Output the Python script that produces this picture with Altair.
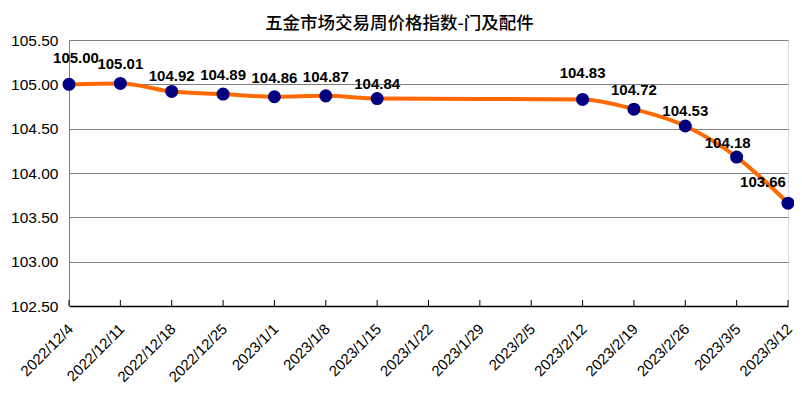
import altair as alt
import pandas as pd

title_text = "五金市场交易周价格指数-门及配件"
dates = ["2022/12/4", "2022/12/11", "2022/12/18", "2022/12/25", "2023/1/1", "2023/1/8",
         "2023/1/15", "2023/1/22", "2023/1/29", "2023/2/5", "2023/2/12", "2023/2/19",
         "2023/2/26", "2023/3/5", "2023/3/12"]
values = [105.00, 105.01, 104.92, 104.89, 104.86, 104.87, 104.84, None, None, None,
          104.83, 104.72, 104.53, 104.18, 103.66]
y_ticks = [102.5, 103.0, 103.5, 104.0, 104.5, 105.0, 105.5]

df = pd.DataFrame({"date": dates, "value": values})
df["order"] = range(len(dates))
df["label"] = df["value"].map(lambda v: "" if pd.isna(v) else f"{v:.2f}")
pts = df.dropna(subset=["value"]).copy()

x_scale = alt.Scale(domain=dates, type="point", padding=0)
x_enc = alt.X("date:N", sort=dates, scale=x_scale,
              axis=alt.Axis(title=None, labelAngle=-45, labelFont="Liberation Sans", labelFontSize=15,
                            labelColor="#000000", labelPadding=20, tickOffset=1, domainColor="#000000",
                            domainWidth=1.5, ticks=False, grid=False, labelOverlap=False,
                            labelAlign="right", labelBaseline="middle", labelBound=False))
y_scale = alt.Scale(domain=[102.5, 105.5], nice=False, zero=False)
y_enc = alt.Y("value:Q", scale=y_scale,
              axis=alt.Axis(title=None, values=y_ticks, format=".2f", labelFont="Liberation Sans",
                            labelFontSize=15.5, labelColor="#000000", labelPadding=11, ticks=False,
                            domainColor="#808080", gridColor="#808080", gridWidth=1))

base = alt.Chart(pts)

ticks = alt.Chart(df).mark_rule(color="#000000", strokeWidth=1).encode(
    x=alt.X("date:N", sort=dates, scale=x_scale),
    y=alt.value(260), y2=alt.value(266))

line = base.mark_line(color="#FF6A00", strokeWidth=4, interpolate="monotone").encode(
    x=x_enc, y=y_enc, order="order:Q")
points = base.mark_circle(color="#000080", opacity=1, size=170).encode(x="date:N", y="value:Q")

def lab(filter_expr, dx, dy):
    return base.transform_filter(filter_expr).mark_text(
        font="Liberation Sans", fontSize=15, fontWeight="bold", color="#000000", dx=dx, dy=dy
    ).encode(x="date:N", y="value:Q", text="label:N")

label_layers = [
    lab("indexof([1, 3, 4, 5, 11], datum.order) >= 0", 0, -19),
    lab("indexof([2, 6, 12], datum.order) >= 0", 0, -15),
    lab("datum.order == 0", 7, -26),
    lab("datum.order == 10", 0, -26),
    lab("datum.order == 13", -9, -14),
    lab("datum.order == 14", -25, -21),
]

chart = alt.layer(ticks, line, points, *label_layers).properties(
    width=719, height=266,
    title=alt.TitleParams(title_text, font="Noto Sans CJK SC", fontSize=17.5, fontWeight=500,
                          color="#000000", anchor="middle", dx=-29, offset=1),
    autosize=alt.AutoSizeParams(type="none"),
    padding={"left": 61, "top": 32, "right": 6, "bottom": 84}
).configure_view(stroke=None).configure(background="#FFFFFF")

chart.save("out.html", embed_options={"renderer": "svg", "actions": False})
